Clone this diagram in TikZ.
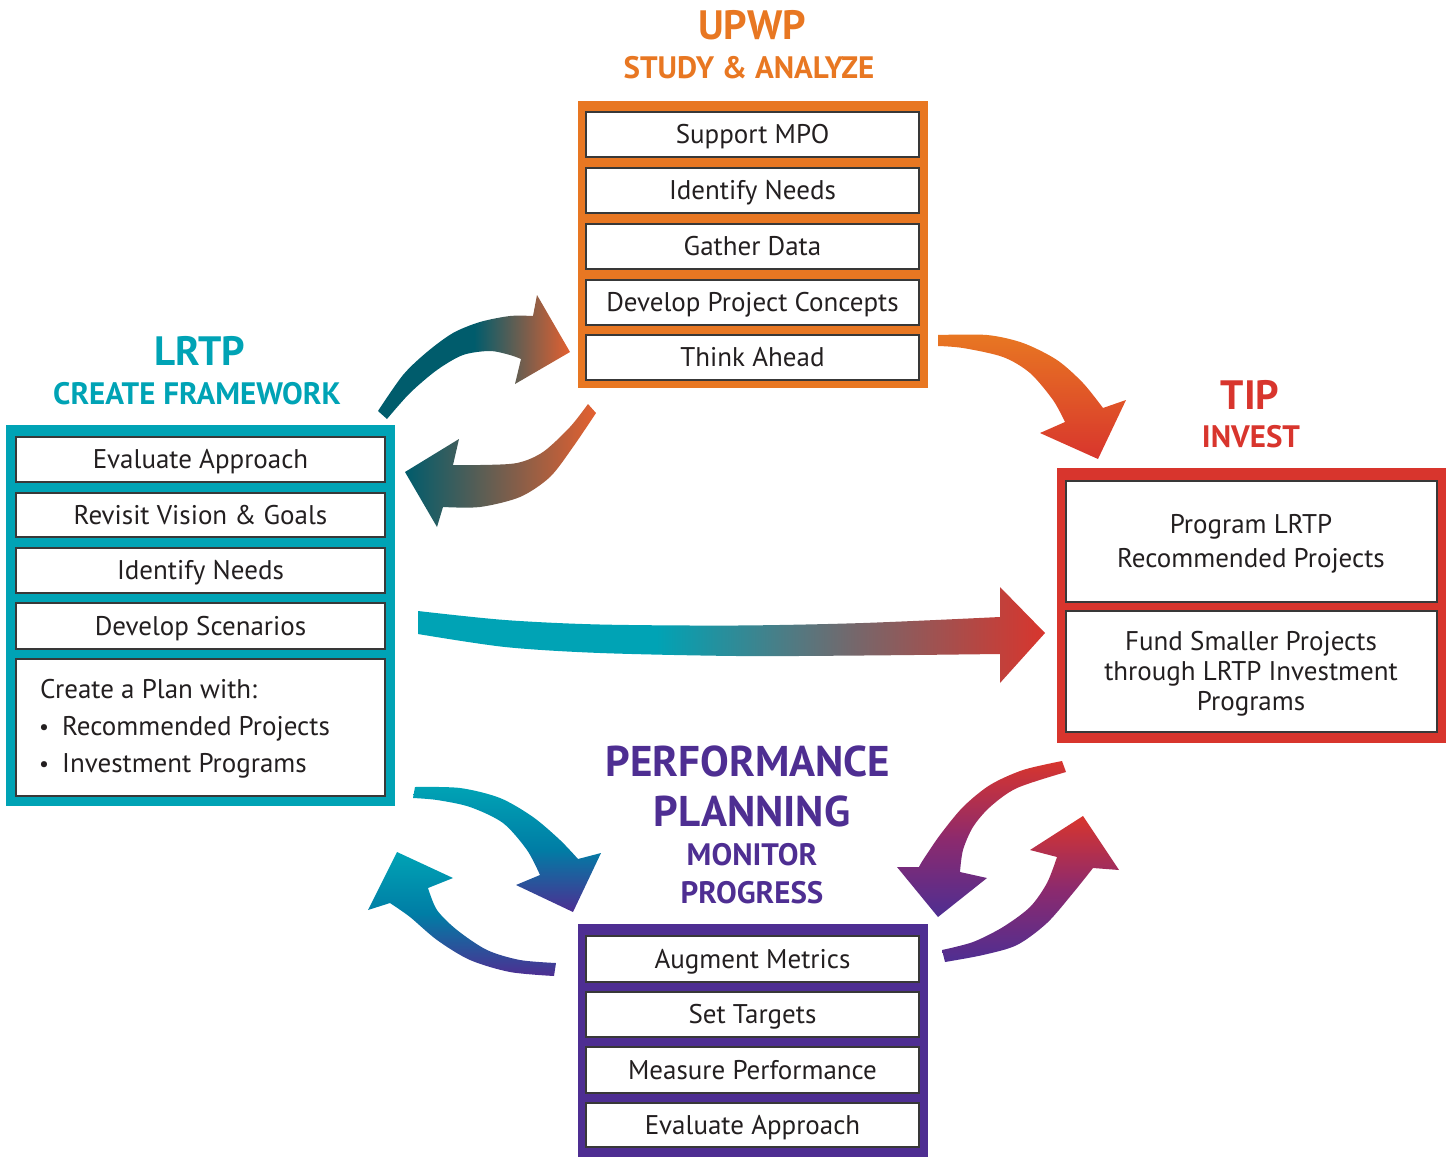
\documentclass[tikz,border=0pt]{standalone}
\usepackage{fontspec}
\setmainfont{PT Sans}
\definecolor{corange}{RGB}{232,119,34}
\definecolor{cteal}{RGB}{0,163,181}
\definecolor{cred}{RGB}{216,53,45}
\definecolor{cpurple}{RGB}{78,46,146}
\definecolor{cdteal}{RGB}{0,92,108}
\definecolor{corred}{RGB}{228,96,48}
\definecolor{ctxt}{RGB}{35,31,32}
\definecolor{cmidblue}{RGB}{0,125,165}
\definecolor{cmagenta}{RGB}{140,42,110}
\colorlet{ctr}{cteal!45!cred}
\colorlet{cdtor}{cdteal!50!corred}
\pgfdeclarehorizontalshading{tealred}{100bp}{color(0bp)=(cteal); color(25bp)=(cteal); color(44bp)=(cteal); color(60bp)=(ctr); color(75bp)=(cred); color(100bp)=(cred)}
\newcommand\mybox[6]{\draw[inbox] (#2,#3) rectangle (#4,#5); \node[bodyfont] (#1) at ({(#2+#4)/2},{(#3+#5)/2}) {#6};}
\begin{document}
\begin{tikzpicture}[x=1pt,y=-1pt, inner sep=0pt,
  inbox/.style={draw=black!78, line width=1.5pt, fill=white},
  bodyfont/.style={font=\fontsize{27}{32}\selectfont, text=ctxt, text height=18.9pt, text depth=0pt},
  headA/.style={font=\bfseries\fontsize{41}{44}\selectfont, text height=28.7pt, text depth=0pt},
  headB/.style={font=\bfseries\fontsize{31}{34}\selectfont, text height=21.7pt, text depth=0pt},
  headP/.style={font=\bfseries\fontsize{43}{46}\selectfont, text height=30.1pt, text depth=0pt},
]
\useasboundingbox (0,0) rectangle (1452,1157);

% ---------- UPWP ----------
\node[headA, text=corange] (upwp) at (752,25) {UPWP};
\node[headB, text=corange] (upwpsub) at (749,68) {STUDY \& ANALYZE};
\fill[corange] (578,101) rectangle (928,388);
\mybox{u1}{586}{112}{919}{157}{Support MPO}
\mybox{u2}{586}{168}{919}{213}{Identify Needs}
\mybox{u3}{586}{224}{919}{269}{Gather Data}
\mybox{u4}{586}{280}{919}{325}{Develop Project Concepts}
\mybox{u5}{586}{335}{919}{380}{Think Ahead}

% ---------- LRTP ----------
\node[headA, text=cteal] (lrtp) at (200,351) {LRTP};
\node[headB, text=cteal] (lrtpsub) at (197,394) {CREATE FRAMEWORK};
\fill[cteal] (6,425) rectangle (395,806);
\mybox{l1}{16}{437}{385}{482}{Evaluate Approach}
\mybox{l2}{16}{493}{385}{537}{Revisit Vision \& Goals}
\mybox{l3}{16}{548}{385}{593}{Identify Needs}
\mybox{l4}{16}{603}{385}{649}{Develop Scenarios}
\draw[inbox] (16,659) rectangle (385,796);
\node[bodyfont, anchor=west] (l5) at (40,689) {Create a Plan with:};
\node[font=\fontsize{22}{26}\selectfont, text=ctxt, anchor=base] (bu1) at (44,734) {\textbullet};
\node[bodyfont, anchor=west] (l6) at (62,726) {Recommended Projects};
\node[font=\fontsize{22}{26}\selectfont, text=ctxt, anchor=base] (bu2) at (44,771) {\textbullet};
\node[bodyfont, anchor=west] (l7) at (62,763) {Investment Programs};

% ---------- TIP ----------
\node[headA, text=cred] (tip) at (1250,395) {TIP};
\node[headB, text=cred] (tipsub) at (1251,437) {INVEST};
\fill[cred] (1057,468) rectangle (1446,743);
\draw[inbox] (1066,481) rectangle (1437,602);
\draw[inbox] (1066,611) rectangle (1437,732);
\node[font=\fontsize{27}{34}\selectfont, text=ctxt, align=center] (t1) at (1251,544) {Program LRTP\\Recommended Projects};
\node[font=\fontsize{27}{30}\selectfont, text=ctxt, align=center] (t2) at (1251,674) {Fund Smaller Projects\\through LRTP Investment\\Programs};

% ---------- PERFORMANCE ----------
\node[headP, text=cpurple] (pp1) at (748,761) {PERFORMANCE};
\node[headP, text=cpurple] (pp2) at (752,811) {PLANNING};
\node[headB, text=cpurple] (pp3) at (752,855) {MONITOR};
\node[headB, text=cpurple] (pp4) at (752,893) {PROGRESS};
\fill[cpurple] (578,924) rectangle (928,1157);
\mybox{p1}{586}{936}{919}{982}{Augment Metrics}
\mybox{p2}{586}{992}{919}{1037}{Set Targets}
\mybox{p3}{586}{1047}{919}{1093}{Measure Performance}
\mybox{p4}{586}{1103}{919}{1147}{Evaluate Approach}

% ---------- arrows ----------
% LRTP -> UPWP
\shade[left color=cdteal, right color=corred, middle color=cdteal]
 plot[smooth] coordinates {(378,411) (403,375) (427,352) (453,333) (480,322) (510,316) (533,316)}
 -- (537,295) -- (570,352) -- (515,384) -- (521,359)
 -- plot[smooth] coordinates {(521,359) (510,355) (490,351) (463,355) (437,370) (410,393) (387,419)}
 -- cycle;
% UPWP -> LRTP
\shade[left color=cdteal, right color=corred, middle color=cdtor]
 plot[smooth] coordinates {(588,404) (570,427) (543,452) (517,463) (480,465) (453,465)}
 -- (459,439) -- (405,472) -- (437,527) -- (443,507)
 -- plot[smooth] coordinates {(443,507) (480,507) (520,497) (550,477) (573,447) (596,413)}
 -- cycle;
% UPWP -> TIP
\shade[top color=corange, bottom color=cred]
 plot[smooth] coordinates {(938,335) (987,335) (1023,343) (1057,360) (1083,383) (1103,408)}
 -- (1126,400) -- (1098,459) -- (1040,433) -- (1065,422)
 -- plot[smooth] coordinates {(1065,422) (1053,400) (1030,373) (1003,357) (963,348) (938,346)}
 -- cycle;
% LRTP -> TIP
\shade[shading=tealred]
 plot[smooth] coordinates {(418,611) (505,620) (600,624.5) (737,625.5) (863,623) (1000,617)}
 -- (1000,587) -- (1045,633) -- (1000,683) -- (1000,654)
 -- plot[smooth] coordinates {(1000,654) (863,655.5) (737,656) (600,653) (505,647) (418,634)}
 -- cycle;
% LRTP -> PERF
\shade[top color=cteal, bottom color=cpurple, middle color=cmidblue]
 plot[smooth] coordinates {(415,787) (460,788) (500,798) (533,817) (560,840) (578,859)}
 -- (601,853) -- (573,912) -- (516,885) -- (540,875)
 -- plot[smooth] coordinates {(540,875) (527,850) (503,823) (470,807) (437,800) (413,798)}
 -- cycle;
% PERF -> LRTP
\shade[top color=cteal, bottom color=cpurple, middle color=cmidblue]
 plot[smooth] coordinates {(556,963) (520,960) (487,950) (457,930) (437,910) (428,888)}
 -- (453,878) -- (397,852) -- (368,910) -- (390,903)
 -- plot[smooth] coordinates {(390,903) (410,917) (437,940) (470,960) (510,972) (554,976)}
 -- cycle;
% TIP -> PERF
\shade[top color=cred, bottom color=cpurple, middle color=cmagenta]
 plot[smooth] coordinates {(1062,761) (1023,770) (990,785) (963,807) (940,835) (923,860) (919,867)}
 -- (897,867) -- (938,917) -- (987,878) -- (960,872)
 -- plot[smooth] coordinates {(960,872) (963,850) (973,827) (990,807) (1017,788) (1066,772)}
 -- cycle;
% PERF -> TIP
\shade[top color=cred, bottom color=cpurple, middle color=cmagenta]
 plot[smooth] coordinates {(942,950) (973,942) (1003,927) (1030,907) (1047,883) (1057,857)}
 -- (1030,850) -- (1083,816) -- (1119,870) -- (1093,868)
 -- plot[smooth] coordinates {(1093,868) (1073,893) (1047,923) (1017,945) (983,955) (945,962)}
 -- cycle;
\end{tikzpicture}
\end{document}
